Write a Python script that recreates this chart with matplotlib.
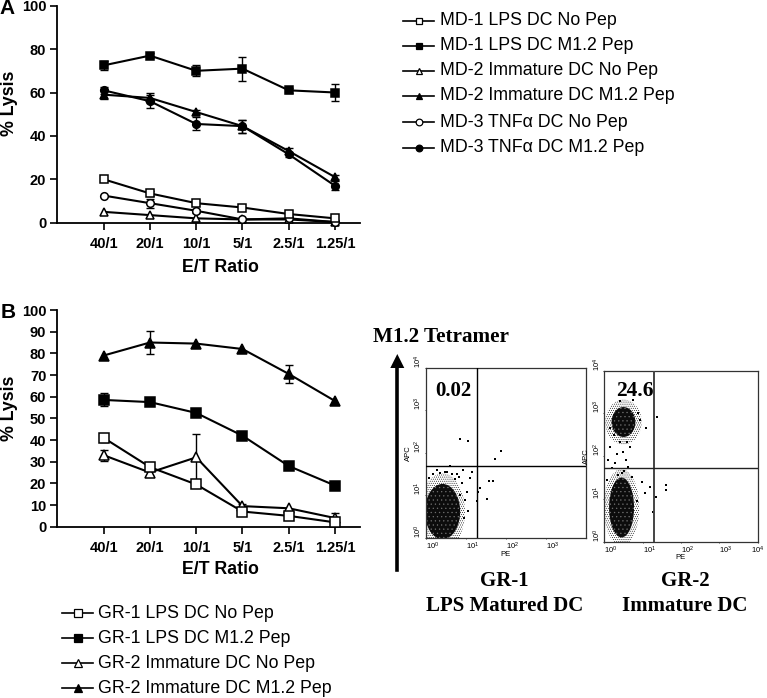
import matplotlib
matplotlib.use("Agg")
import matplotlib.pyplot as plt
from matplotlib.lines import Line2D
from matplotlib.patches import Ellipse, Polygon

plt.rcParams["font.family"] = ["Liberation Sans", "DejaVu Sans"]
plt.rcParams["hatch.linewidth"] = 0.4

W, H = 767, 698
SERIF = "Liberation Serif"

ratios = ["40/1", "20/1", "10/1", "5/1", "2.5/1", "1.25/1"]

# panel A, err 0 means no bar visible outside the marker
md1_no = [20, 13.5, 9, 7, 4, 2]
md1_no_err = [0, 1, 0, 0, 0, 0]
md1_pep = [72.5, 77, 70, 71, 61, 60]
md1_pep_err = [2, 1, 2.5, 5.5, 1, 4]
md2_no = [5, 3.5, 2, 1.5, 1.5, 0.3]
md2_no_err = [0, 0, 0, 0, 0, 0]
md2_pep = [59, 57.5, 51, 44.5, 33, 21]
md2_pep_err = [2, 2.5, 1, 3, 1.5, 1]
md3_no = [12.5, 9, 5.5, 1.5, 2, 0.3]
md3_no_err = [0, 2, 1, 0, 0, 0]
md3_pep = [61, 56, 45.5, 44.5, 31.5, 17]
md3_pep_err = [1.5, 3, 3, 3, 1, 2]

# panel B
gr1_no = [41, 27.5, 19.5, 7, 5, 2]
gr1_no_err = [2, 1, 0, 0, 0, 0]
gr1_pep = [58.5, 57.5, 52.5, 42, 28, 19]
gr1_pep_err = [3, 1, 0, 0, 0, 0]
gr2_no = [33, 25, 32, 9.5, 8.5, 4]
gr2_no_err = [2.5, 1.5, 11, 1, 0, 2.5]
gr2_pep = [79, 85, 84.5, 82, 70.5, 58]
gr2_pep_err = [0, 5.5, 0, 0, 4, 0]

# flow plots, log10 units
gr1_x = [0.86, 1.05, 1.88, 1.74, 0.61, 1.69, 1.59, 1.54, 1.36, 1.31, 1.15, 1.11, 0.98, 1.06, 1.27,
         0.36, 0.48, 0.19, 0.65, 0.54, 0.82, 0.9, 1.02, 0.86, 0.94, 0.08, 0.28, 0.72, 0.78, 0.95]
gr1_y = [2.32, 2.29, 2.05, 1.86, 1.68, 1.34, 1.35, 0.91, 1.17, 1.09, 1.56, 1.41, 0.9, 0.63, 0.86,
         1.53, 1.54, 1.51, 1.51, 1.56, 1.44, 1.29, 1.09, 1.01, 1.59, 1.42, 1.6, 1.38, 1.5, 0.48]
gr2_x = [1.38, 1.1, 0.93, 0.89, 0.15, 0.32, 0.5, 0.57, 0.28, 0.1, 0.41, 0.58, 0.76, 1.61, 1.61, 1.19,
         1.26, 1.36, 0.2, 0.45, 0.62, 0.35, 0.72, 0.08, 0.52, 0.24, 0.98, 1.05, 0.85, 0.66, 0.14, 0.42]
gr2_y = [2.92, 2.67, 2.85, 3.0, 2.22, 2.06, 2.1, 1.91, 1.83, 1.9, 2.34, 2.34, 3.31, 1.33, 1.21, 1.29,
         0.7, 1.05, 1.72, 1.6, 1.75, 1.55, 1.52, 1.44, 1.66, 2.5, 1.4, 1.15, 0.95, 2.22, 2.66, 3.28]

xpos = list(range(len(ratios)))

panel_a = [
    (md2_pep, md2_pep_err, "^", "k"),
    (md3_pep, md3_pep_err, "o", "k"),
    (md1_pep, md1_pep_err, "s", "k"),
    (md2_no, md2_no_err, "^", "w"),
    (md3_no, md3_no_err, "o", "w"),
    (md1_no, md1_no_err, "s", "w"),
]
panel_b = [
    (gr2_pep, gr2_pep_err, "^", "k"),
    (gr1_pep, gr1_pep_err, "s", "k"),
    (gr2_no, gr2_no_err, "^", "w"),
    (gr1_no, gr1_no_err, "s", "w"),
]

fig = plt.figure(figsize=(W / 100, H / 100), dpi=100)


def px_axes(left, top, right, bottom):
    return fig.add_axes([left / W, 1 - bottom / H, (right - left) / W, (bottom - top) / H])


def fig_text(x, y, text, **kwargs):
    kwargs.setdefault("ha", "center")
    kwargs.setdefault("va", "center")
    fig.text(x / W, 1 - y / H, text, **kwargs)


def draw_lysis(ax, series, yticks, marker_size):
    for values, errs, marker, face in series:
        bars = [i for i in xpos if errs[i] > 0]
        ax.errorbar(bars, [values[i] for i in bars], yerr=[errs[i] for i in bars], fmt="none",
                    ecolor="k", elinewidth=1.0, capsize=3.2, capthick=1.0, clip_on=False, zorder=3)
        ax.plot(xpos, values, color="k", lw=1.5, marker=marker, ms=marker_size, mfc=face, mec="k",
                mew=1.1, clip_on=False, zorder=4)
    ax.set_xlim(-1, 5.54)
    ax.set_ylim(0, 100)
    ax.set_xticks(xpos, ratios, fontweight="bold", fontsize=10.5)
    ax.set_yticks(yticks, [str(t) for t in yticks], fontweight="bold", fontsize=10.5)
    ax.tick_params(axis="both", width=1.2, length=5, pad=3)
    ax.tick_params(axis="x", pad=5)
    for side in ["top", "right"]:
        ax.spines[side].set_visible(False)
    for side in ["left", "bottom"]:
        ax.spines[side].set_linewidth(1.3)


def draw_legend_row(x0, x1, y, text_x, label, marker, face, size):
    fig.add_artist(Line2D([x0 / W, x1 / W], [1 - y / H] * 2, transform=fig.transFigure, color="k", lw=1.2))
    fig.add_artist(Line2D([(x0 + x1) / 2 / W], [1 - y / H], transform=fig.transFigure, color="k",
                          marker=marker, ms=size, mfc=face, mec="k", mew=0.9, ls="none"))
    fig_text(text_x, y, label, ha="left", fontsize=12.8)


def draw_flow(ax, px, py, clouds, show_top_x, apc_x):
    # clouds are drawn as stippled ellipses, too many dots to read one by one
    for cx, cy, w, h, dense in clouds:
        if dense:
            ax.add_patch(Ellipse((cx, cy), w, h, fc="#0c0c0c", ec="#707070", hatch="....", lw=0, zorder=2))
        else:
            ax.add_patch(Ellipse((cx, cy), w, h, fc="white", ec="#1a1a1a", hatch="........", lw=0, zorder=1))
    ax.scatter(px, py, s=1.2, c="k", marker="s", linewidths=0, zorder=3)
    ax.set_xlim(0, 4)
    ax.set_ylim(0, 4)
    xt = [0, 1, 2, 3] + ([4] if show_top_x else [])
    # flow software prints these labels a little off their ticks
    ax.set_xticks(xt, [f"$\\mathdefault{{10^{t}}}$" for t in xt], fontsize=5.5, ha="left")
    if show_top_x:
        ax.get_xticklabels()[-1].set_ha("center")
    ax.set_yticks([0, 1, 2, 3, 4], [f"$\\mathdefault{{10^{t}}}$" for t in [0, 1, 2, 3, 4]],
                  fontsize=5.5, rotation=90, va="bottom")
    ax.tick_params(axis="both", length=1, width=0.5, pad=1)
    ax.tick_params(axis="y", pad=0)
    ax.set_xlabel("PE", fontsize=5.5, labelpad=-1)
    ax.set_ylabel("APC", fontsize=5.5)
    ax.yaxis.set_label_coords(apc_x, 0.5)
    for spine in ax.spines.values():
        spine.set_linewidth(0.9)
        spine.set_edgecolor("#333333")


# lysis panels
ax_a = px_axes(57.4, 5.7, 360, 222.7)
draw_lysis(ax_a, panel_a, [0, 20, 40, 60, 80, 100], 5.5)
ax_b = px_axes(57.4, 310, 360, 526.7)
draw_lysis(ax_b, panel_b, [0, 10, 20, 30, 40, 50, 60, 70, 80, 90, 100], 7)

fig_text(220, 267, "E/T Ratio", fontweight="bold", fontsize=12.8)
fig_text(220, 570, "E/T Ratio", fontweight="bold", fontsize=12.8)
fig_text(9, 103, "% Lysis", fontweight="bold", fontsize=12.8, rotation=90)
fig_text(9, 408, "% Lysis", fontweight="bold", fontsize=12.8, rotation=90)
fig_text(7, 8, "A", fontweight="bold", fontsize=15)
fig_text(8, 312, "B", fontweight="bold", fontsize=15)

# legends, rows are not evenly spaced in the original
rows_a = [("MD-1 LPS DC No Pep", "s", "w", 20.7), ("MD-1 LPS DC M1.2 Pep", "s", "k", 45.7),
          ("MD-2 Immature DC No Pep", "^", "w", 70.7), ("MD-2 Immature DC M1.2 Pep", "^", "k", 95.7),
          ("MD-3 TNFα DC No Pep", "o", "w", 122.3), ("MD-3 TNFα DC M1.2 Pep", "o", "k", 147.7)]
for label, marker, face, y in rows_a:
    draw_legend_row(403, 434, y, 440, label, marker, face, 4.8)
rows_b = [("GR-1 LPS DC No Pep", "s", "w", 613.3), ("GR-1 LPS DC M1.2 Pep", "s", "k", 638.3),
          ("GR-2 Immature DC No Pep", "^", "w", 663.3), ("GR-2 Immature DC M1.2 Pep", "^", "k", 688.3)]
for label, marker, face, y in rows_b:
    draw_legend_row(62, 93, y, 98, label, marker, face, 6.2)

# flow plots
ax_f1 = px_axes(425.7, 367.7, 586, 538)
draw_flow(ax_f1, gr1_x, gr1_y, [(0.42, 0.62, 1.12, 1.8, False), (0.42, 0.62, 0.88, 1.3, True)], False, -0.085)
ax_f1.plot([1.29, 1.29], [0, 4], color="k", lw=1.0, zorder=4)
ax_f1.plot([0, 4], [1.7, 1.7], color="k", lw=1.0, zorder=4)

ax_f2 = px_axes(604.3, 370.7, 757.7, 541.7)
draw_flow(ax_f2, gr2_x, gr2_y,
          [(0.45, 0.8, 0.92, 1.8, False), (0.45, 0.8, 0.65, 1.4, True),
           (0.5, 2.8, 0.95, 1.05, False), (0.5, 2.8, 0.62, 0.7, True)], True, -0.095)
ax_f2.plot([1.29, 1.29], [0, 4], color="#444444", lw=1.4, zorder=4)
ax_f2.plot([0, 4], [1.73, 1.73], color="#222222", lw=1.0, zorder=4)

fig_text(453, 391, "0.02", family=SERIF, fontweight="bold", fontsize=15, zorder=6)
fig_text(635, 391, "24.6", family=SERIF, fontweight="bold", fontsize=15.5, zorder=6)
fig_text(441, 337, "M1.2 Tetramer", family=SERIF, fontweight="bold", fontsize=15.2)
fig_text(504, 581, "GR-1", family=SERIF, fontweight="bold", fontsize=15)
fig_text(505, 606, "LPS Matured DC", family=SERIF, fontweight="bold", fontsize=15)
fig_text(685, 581, "GR-2", family=SERIF, fontweight="bold", fontsize=15)
fig_text(685, 606, "Immature DC", family=SERIF, fontweight="bold", fontsize=15)

# arrow beside the flow plots
fig.add_artist(Line2D([397.3 / W] * 2, [1 - 570 / H, 1 - 366 / H], transform=fig.transFigure, color="k", lw=2.6))
fig.add_artist(Polygon([[390.3 / W, 1 - 368 / H], [404.3 / W, 1 - 368 / H], [397.3 / W, 1 - 354 / H]],
                       transform=fig.transFigure, fc="k", ec="none"))

fig.savefig("out.png", dpi=100)
